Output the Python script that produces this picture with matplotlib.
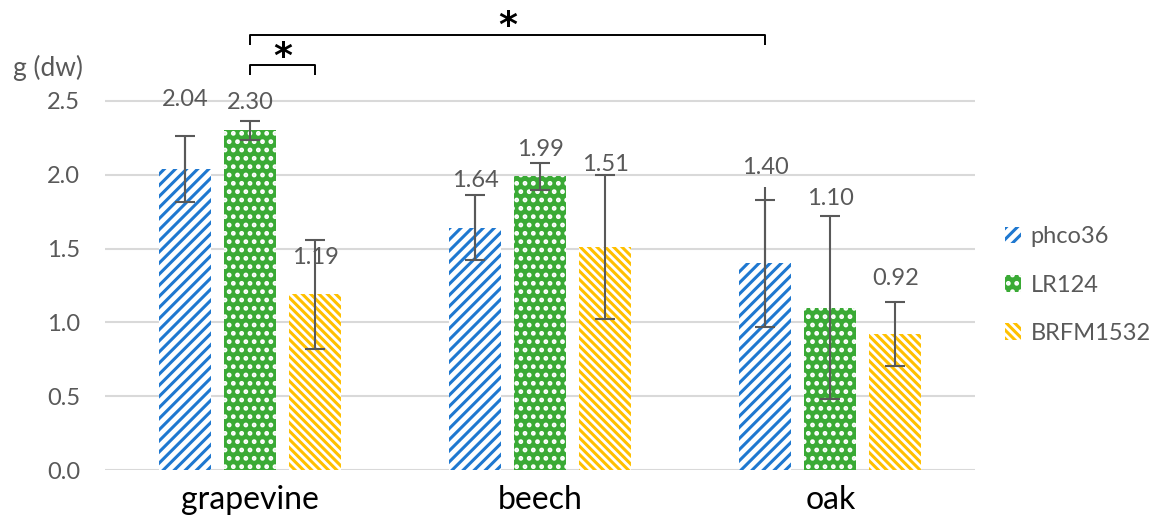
import numpy as np
import matplotlib
matplotlib.use("Agg")
import matplotlib.pyplot as plt

plt.rcParams['font.family'] = ['Lato', 'DejaVu Sans']
plt.rcParams['hatch.linewidth'] = 2.2

# data
categories = ['grapevine', 'beech', 'oak']
series = ['phco36', 'LR124', 'BRFM1532']
phco36 = [2.04, 1.64, 1.40]
lr124 = [2.30, 1.99, 1.10]
brfm1532 = [1.19, 1.51, 0.92]
phco36_err = [0.225, 0.22, 0.43]
lr124_err = [0.065, 0.09, 0.62]
brfm1532_err = [0.37, 0.49, 0.215]
# oak phco36 whisker runs a bit past its cap in the original
phco36_line_top = [0.225, 0.22, 0.52]

# where each value label sits (data units)
label_y = [[2.51, 1.96, 2.05], [2.49, 2.17, 1.84], [1.44, 2.07, 1.30]]

txt = '#595959'
styles = [
    dict(facecolor='white', edgecolor='#1F78D0', hatch='///'),
    dict(facecolor='#3AAA35', edgecolor='white', hatch='..'),
    dict(facecolor='white', edgecolor='#FFC000', hatch='\\\\\\\\'),
]

fig = plt.figure(figsize=(11.53, 5.23), dpi=100)
ax = fig.add_axes([0.091, 0.1013, 0.755, 0.8987])

x = np.arange(len(categories))
offs = [-0.224, 0, 0.224]
w = 0.18
vals = [phco36, lr124, brfm1532]
errs = [phco36_err, lr124_err, brfm1532_err]

for yv in np.arange(0, 2.51, 0.5):
    ax.axhline(yv, color='#D9D9D9', lw=1.5, zorder=0)

handles = []
for i in range(3):
    b = ax.bar(x + offs[i], vals[i], w, linewidth=0, label=series[i], zorder=2, **styles[i])
    handles.append(b)
    ax.errorbar(x + offs[i], vals[i], yerr=errs[i], fmt='none', ecolor='#595959',
                elinewidth=1.5, capsize=7, capthick=1.5, zorder=3)
    for j in range(3):
        ax.text(x[j] + offs[i], label_y[i][j], f'{vals[i][j]:.2f}', ha='center',
                va='center', fontsize=17, color=txt)

ax.errorbar(x + offs[0], phco36, yerr=[phco36_err, phco36_line_top], fmt='none',
            ecolor='#595959', elinewidth=1.5, capsize=0, zorder=3)

# significance brackets
def bracket(x1, x2, y, h, ystar):
    ax.plot([x1, x1, x2, x2], [y - h, y, y, y - h], color='black', lw=1.4,
            clip_on=False, solid_capstyle='butt')
    ax.text((x1 + x2) / 2, ystar, '*', ha='center', va='center', fontsize=26,
            fontweight='bold', color='black', family='DejaVu Sans')

bracket(x[0] + offs[1], x[0] + offs[2], 2.744, 0.068, 2.80)
bracket(x[0] + offs[1], x[2] + offs[0], 2.947, 0.068, 3.01)

ax.set_xlim(-0.5, 2.5)
ax.set_ylim(0, 3.184)
ax.set_yticks(np.arange(0, 2.51, 0.5))
ax.set_yticklabels([f'{v:.1f}' for v in np.arange(0, 2.51, 0.5)], fontsize=17, color=txt)
ax.set_xticks(x)
ax.set_xticklabels(categories, fontsize=23, color='black')
ax.tick_params(length=0)
ax.tick_params(axis='y', pad=18)
ax.tick_params(axis='x', pad=11)
for s in ax.spines.values():
    s.set_visible(False)

fig.text(0.011, 0.87, 'g (dw)', fontsize=19, color=txt, va='center')

fig.legend(handles=handles, labels=series, loc='center left',
           bbox_to_anchor=(0.853, 0.455), frameon=False, fontsize=17,
           labelcolor=txt, handlelength=0.7, handleheight=0.7,
           labelspacing=1.15, handletextpad=0.4)

fig.savefig('out.png', dpi=100)
